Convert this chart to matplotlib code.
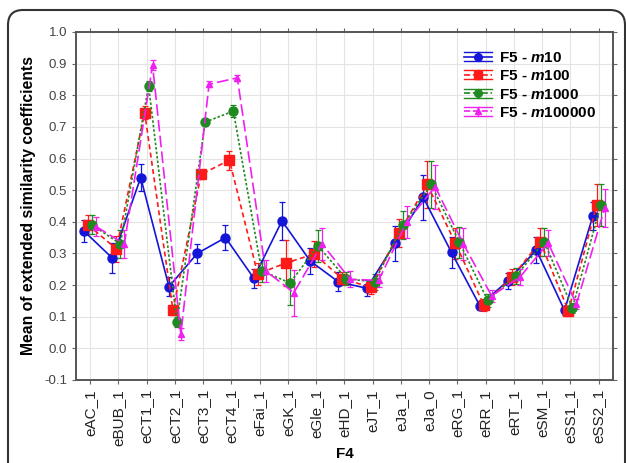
import numpy as np
import matplotlib
matplotlib.use('Agg')
import matplotlib.pyplot as plt
from matplotlib.lines import Line2D
from matplotlib.patches import FancyBboxPatch
from matplotlib.legend_handler import HandlerBase

plt.rcParams['font.family'] = ['Liberation Sans', 'DejaVu Sans']
plt.rcParams['mathtext.fontset'] = 'custom'
plt.rcParams['mathtext.it'] = 'Liberation Sans:italic:bold'
plt.rcParams['mathtext.rm'] = 'Liberation Sans:bold'

cats = ['eAC_1', 'eBUB_1', 'eCT1_1', 'eCT2_1', 'eCT3_1', 'eCT4_1', 'eFai_1',
        'eGK_1', 'eGle_1', 'eHD_1', 'eJT_1', 'eJa_1', 'eJa_0', 'eRG_1',
        'eRR_1', 'eRT_1', 'eSM_1', 'eSS1_1', 'eSS2_1']

m10 = [0.37, 0.285, 0.54, 0.195, 0.30, 0.35, 0.222, 0.403, 0.276, 0.21,
       0.19, 0.332, 0.477, 0.303, 0.135, 0.214, 0.311, 0.12, 0.418]
m10_err = [0.035, 0.047, 0.044, 0.03, 0.03, 0.04, 0.03, 0.06, 0.04, 0.03,
           0.025, 0.055, 0.07, 0.05, 0.015, 0.025, 0.04, 0.015, 0.045]
m100 = [0.39, 0.314, 0.745, 0.121, 0.55, 0.595, 0.235, 0.27, 0.298, 0.22,
        0.193, 0.365, 0.518, 0.332, 0.137, 0.225, 0.337, 0.118, 0.453]
m100_err = [0.03, 0.04, 0.02, 0.015, 0.015, 0.03, 0.035, 0.073, 0.04, 0.02,
            0.02, 0.045, 0.073, 0.05, 0.02, 0.025, 0.045, 0.015, 0.065]
m1000 = [0.39, 0.33, 0.83, 0.083, 0.715, 0.75, 0.245, 0.207, 0.323, 0.22,
         0.21, 0.39, 0.518, 0.335, 0.152, 0.229, 0.337, 0.128, 0.453]
m1000_err = [0.03, 0.045, 0.015, 0.015, 0.01, 0.02, 0.035, 0.07, 0.05, 0.02,
             0.025, 0.045, 0.075, 0.05, 0.02, 0.025, 0.045, 0.015, 0.065]
m100000 = [0.385, 0.33, 0.895, 0.045, 0.835, 0.855, 0.245, 0.176, 0.33, 0.218,
           0.215, 0.40, 0.511, 0.33, 0.166, 0.225, 0.333, 0.14, 0.443]
m100000_err = [0.03, 0.045, 0.015, 0.02, 0.01, 0.01, 0.035, 0.073, 0.05, 0.025,
               0.02, 0.05, 0.07, 0.05, 0.02, 0.025, 0.04, 0.015, 0.06]

series = [
    ('F5 - $m$10', m10, m10_err, '#1515d8', 'o', '-', 6.5, -0.21),
    ('F5 - $m$100', m100, m100_err, '#ff1a1a', 's', (0, (3, 2)), 6.5, -0.07),
    ('F5 - $m$1000', m1000, m1000_err, '#1f8a1f', 'o', (0, (1.5, 1.2)), 6.5, 0.07),
    ('F5 - $m$100000', m100000, m100000_err, '#f020f0', '^', (0, (7, 2.5)), 5, 0.21),
]


class ErrHandler(HandlerBase):
    # main line with marker, plus full-width caps above and below
    def create_artists(self, legend, orig_handle, xdescent, ydescent,
                       width, height, fontsize, trans):
        c = orig_handle.get_color()
        ls = orig_handle.get_linestyle()
        mk = orig_handle.get_marker()
        ms = orig_handle.get_markersize()
        x0, x1 = -xdescent, -xdescent + width
        yc = -ydescent + height / 2
        h = height * 0.42
        arts = [Line2D([x0, x1], [yc, yc], color=c, lw=1.2, linestyle=ls),
                Line2D([x0, x1], [yc + h, yc + h], color=c, lw=1.0),
                Line2D([x0, x1], [yc - h, yc - h], color=c, lw=1.0),
                Line2D([(x0 + x1) / 2] * 2, [yc - h, yc + h], color=c, lw=1.0),
                Line2D([(x0 + x1) / 2], [yc], color=c, marker=mk, ms=ms,
                       linestyle='none')]
        for a in arts:
            a.set_transform(trans)
        return arts


fig = plt.figure(figsize=(6.26, 4.63), dpi=100)
ax = fig.add_axes([0.1214, 0.1793, 0.8576, 0.7516])

x = np.arange(len(cats))
handles = []
for label, vals, errs, col, mk, ls, ms, off in series:
    ax.errorbar(x + off, vals, yerr=errs, color=col, ecolor=col, elinewidth=0.9,
                capsize=2, capthick=0.9, linestyle=ls, linewidth=1.2,
                marker=mk, markersize=ms, zorder=3)
    handles.append(Line2D([], [], color=col, marker=mk, markersize=ms - 1,
                          linestyle=ls, label=label))

ax.set_xlim(-0.5, len(cats) - 0.5)
ax.set_ylim(-0.1, 1.0)
ax.set_yticks(np.arange(-0.1, 1.01, 0.1))
ax.set_yticklabels(['%.1f' % v for v in np.arange(-0.1, 1.01, 0.1)])
ax.set_xticks(x)
ax.set_xticklabels(cats, rotation=90, fontsize=11, color='#222222')
ax.tick_params(axis='y', labelsize=9.5, labelcolor='#444444')
ax.tick_params(direction='out', length=3, width=0.8, color='#666666',
               top=True, right=True)
ax.grid(True, color='#e4e4e4', linewidth=0.8)
ax.set_axisbelow(True)
for s in ax.spines.values():
    s.set_color('#555555')
    s.set_linewidth(1.4)

ax.set_ylabel('Mean of extended similarity coefficients', fontsize=11.3,
              fontweight='bold', labelpad=6)
fig.text(0.551, 0.004, 'F4', fontsize=11, fontweight='bold', ha='center',
         va='bottom')

ax.legend(handles=handles, handler_map={Line2D: ErrHandler()}, loc='upper right',
          frameon=False, prop={'weight': 'bold', 'size': 11},
          handlelength=1.8, handletextpad=0.5, labelspacing=0.28,
          bbox_to_anchor=(0.995, 0.985))

# rounded outer frame
frame = FancyBboxPatch((0.08, -0.6), 6.17, 5.13,
                       boxstyle='round,pad=0,rounding_size=0.15',
                       transform=fig.dpi_scale_trans, fill=False,
                       edgecolor='#333333', linewidth=1.5, zorder=0)
fig.patches.append(frame)

fig.savefig('out.png', dpi=100)
